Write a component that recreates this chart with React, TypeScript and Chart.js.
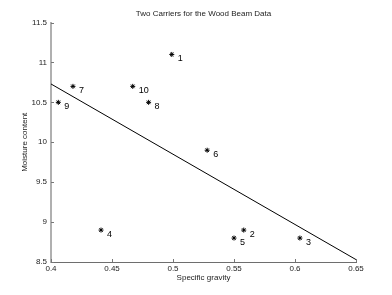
import React, { useEffect, useRef } from "react";
import { Chart, registerables } from "chart.js";

Chart.register(...registerables);

const specificGravity = [0.499, 0.558, 0.604, 0.441, 0.55, 0.528, 0.418, 0.48, 0.406, 0.467];
const moisture = [11.1, 8.9, 8.8, 8.9, 8.8, 9.9, 10.7, 10.5, 10.5, 10.7];
const pointLabels = ["1", "2", "3", "4", "5", "6", "7", "8", "9", "10"];
const lineX = [0.4, 0.65];
const lineY = [10.73, 8.53];
const xTicks = [0.4, 0.45, 0.5, 0.55, 0.6, 0.65];
const yTicks = [8.5, 9, 9.5, 10, 10.5, 11, 11.5];
const titleText = "Two Carriers for the Wood Beam Data";
const xTitle = "Specific gravity";
const yTitle = "Moisture content";

const FONT = "'Liberation Sans', Arial, sans-serif";

const overlay = {
  id: "overlay",
  afterDraw(chart: any) {
    const ctx = chart.ctx;
    const xs = chart.scales.x;
    const ys = chart.scales.y;
    const area = chart.chartArea;
    ctx.save();
    // inward ticks
    ctx.strokeStyle = "#777";
    ctx.lineWidth = 1;
    ctx.beginPath();
    xTicks.forEach((v) => {
      const px = Math.round(xs.getPixelForValue(v)) + 0.5;
      ctx.moveTo(px, area.bottom);
      ctx.lineTo(px, area.bottom - 3);
    });
    yTicks.forEach((v) => {
      const py = Math.round(ys.getPixelForValue(v)) + 0.5;
      ctx.moveTo(area.left, py);
      ctx.lineTo(area.left + 3, py);
    });
    ctx.stroke();
    // point labels
    ctx.fillStyle = "#000";
    ctx.font = `9px ${FONT}`;
    ctx.textAlign = "left";
    ctx.textBaseline = "middle";
    specificGravity.forEach((x, i) => {
      const px = xs.getPixelForValue(x);
      const py = ys.getPixelForValue(moisture[i]);
      ctx.fillText(pointLabels[i], px + 6, py + 4);
    });
    // title
    const cx = (area.left + area.right) / 2;
    ctx.font = `8px ${FONT}`;
    ctx.textAlign = "center";
    ctx.fillStyle = "#222";
    ctx.fillText(titleText, cx, 14);
    // axis titles
    ctx.fillText(xTitle, cx, 278);
    ctx.translate(25, (area.top + area.bottom) / 2);
    ctx.rotate(-Math.PI / 2);
    ctx.fillText(yTitle, 0, 0);
    ctx.restore();
  },
};

export default function App() {
  const ref = useRef<HTMLCanvasElement>(null);
  useEffect(() => {
    if (!ref.current) return;
    const chart = new Chart(ref.current, {
      type: "scatter",
      data: {
        datasets: [
          {
            data: specificGravity.map((x, i) => ({ x, y: moisture[i] })),
            pointStyle: "star",
            radius: 2.5,
            borderColor: "#000",
            backgroundColor: "#000",
            borderWidth: 1,
            showLine: false,
          },
          {
            type: "line",
            data: lineX.map((x, i) => ({ x, y: lineY[i] })),
            borderColor: "#000",
            borderWidth: 1,
            pointRadius: 0,
            fill: false,
          } as any,
        ],
      },
      options: {
        animation: false,
        responsive: false,
        maintainAspectRatio: false,
        layout: { padding: { left: 0, right: 36, top: 22.5, bottom: 0 } },
        plugins: {
          legend: { display: false },
          title: { display: false },
          tooltip: { enabled: false },
        },
        scales: {
          x: {
            type: "linear",
            min: 0.4,
            max: 0.65,
            afterBuildTicks: (s: any) => {
              s.ticks = xTicks.map((v) => ({ value: v }));
            },
            afterFit: (s: any) => {
              s.height = 33;
            },
            grid: { display: false, drawTicks: false },
            border: { display: true, color: "#6e6e6e", width: 1 },
            ticks: {
              font: { size: 8, family: FONT },
              color: "#222",
              padding: 2,
              maxRotation: 0,
              autoSkip: false,
              callback: (v: any) => String(Number(v)),
            },
            title: { display: false },
          },
          y: {
            type: "linear",
            min: 8.5,
            max: 11.5,
            afterBuildTicks: (s: any) => {
              s.ticks = yTicks.map((v) => ({ value: v }));
            },
            afterFit: (s: any) => {
              s.width = 51;
            },
            grid: { display: false, drawTicks: false },
            border: { display: true, color: "#b0b0b0", width: 2 },
            ticks: {
              font: { size: 8, family: FONT },
              color: "#222",
              padding: 4,
              autoSkip: false,
              callback: (v: any) => String(Number(v)),
            },
            title: { display: false },
          },
        },
      },
      plugins: [overlay],
    });
    return () => chart.destroy();
  }, []);
  return (
    <div style={{ position: "absolute", left: 0, top: 0, width: 392, height: 295, background: "#fff" }}>
      <canvas ref={ref} width={392} height={295} style={{ width: 392, height: 295 }} />
    </div>
  );
}
